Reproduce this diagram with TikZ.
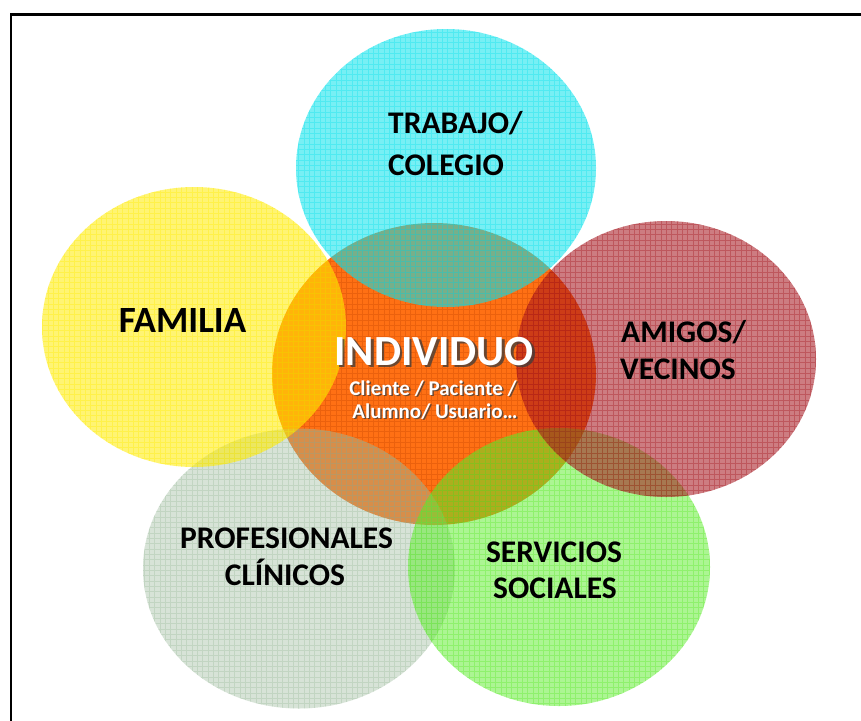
\documentclass[tikz,border=0pt]{standalone}
\usepackage{fontspec}
\setmainfont{Carlito}
\definecolor{cOrange}{RGB}{255,112,20}
\definecolor{cOrangeL}{RGB}{200,70,0}
\definecolor{cGray}{RGB}{155,187,155}
\definecolor{cYellow}{RGB}{255,236,0}
\definecolor{cCyan}{RGB}{9,227,236}
\definecolor{cGreen}{RGB}{90,236,40}
\definecolor{cRed}{RGB}{164,18,27}
\definecolor{cShadow}{RGB}{60,60,60}
\newcommand{\myblob}[7]{%
  \fill[#5, fill opacity=#6] (#1,#2) ellipse [x radius=#3pt, y radius=#4pt];
  \begin{scope}
    \clip (#1,#2) ellipse [x radius=#3pt, y radius=#4pt];
    \draw[#7, line width=0.5pt, draw opacity=0.35] ({#1-#3},{#2-#4}) grid[step=5.33pt] ({#1+#3},{#2+#4});
  \end{scope}}
\begin{document}
\begin{tikzpicture}[x=1pt,y=-1pt,
  lab/.style={font=\fontsize{31.5}{36}\selectfont\bfseries, inner sep=0pt, text=black},
  indiv/.style={font=\fontsize{43}{46}\selectfont\bfseries, inner sep=0pt},
  sub/.style={font=\fontsize{21}{24}\selectfont\bfseries, inner sep=0pt},
  shadowtext/.style={text=cShadow, text opacity=0.75},
  frame/.style={draw=black, line width=2.6pt}]
\useasboundingbox (0,0) rectangle (861,720);
\clip (0,0) rectangle (861,720);
\fill[white] (0,0) rectangle (861,720);
% circles
\myblob{434}{374}{162}{151}{cOrange}{1}{cOrangeL}
\myblob{299}{568.5}{156}{140}{cGray}{0.4}{cGray}
\myblob{194}{327}{152}{140}{cYellow}{0.55}{cYellow}
\myblob{446}{168}{150}{139}{cCyan}{0.55}{cCyan}
\myblob{559}{567}{151}{139}{cGreen}{0.5}{cGreen}
\myblob{666}{359}{150}{138}{cRed}{0.55}{cRed}
% frame
\draw[frame] (11,14.5) rectangle (900,760);
% labels
\node[lab, anchor=base west] (trab1) at (388,133.5) {TRABAJO/};
\node[lab, anchor=base west] (trab2) at (388,175.5) {COLEGIO};
\node[lab, font=\fontsize{37}{40}\selectfont\bfseries, anchor=base] (fam) at (182.5,332) {FAMILIA};
\node[lab, anchor=base west] (ami1) at (621,342) {AMIGOS/};
\node[lab, anchor=base west] (ami2) at (620,379) {VECINOS};
\node[lab, anchor=base] (pro1) at (286.5,548.3) {PROFESIONALES};
\node[lab, anchor=base] (pro2) at (285,585) {CLÍNICOS};
\node[lab, anchor=base] (ser1) at (554,562) {SERVICIOS};
\node[lab, anchor=base] (ser2) at (555,598.7) {SOCIALES};
% central text with shadow
\node[indiv, shadowtext, anchor=base] (indS) at (436.5,367.5) {INDIVIDUO};
\node[indiv, text=white, anchor=base] (ind) at (434,365) {INDIVIDUO};
\node[sub, shadowtext, anchor=base] (sub1S) at (434.5,396.5) {Cliente / Paciente /};
\node[sub, text=white, anchor=base] (sub1) at (433,395) {Cliente / Paciente /};
\node[sub, shadowtext, anchor=base] (sub2S) at (436.5,419.8) {Alumno/ Usuario…};
\node[sub, text=white, anchor=base] (sub2) at (435,418.3) {Alumno/ Usuario…};
\end{tikzpicture}
\end{document}
